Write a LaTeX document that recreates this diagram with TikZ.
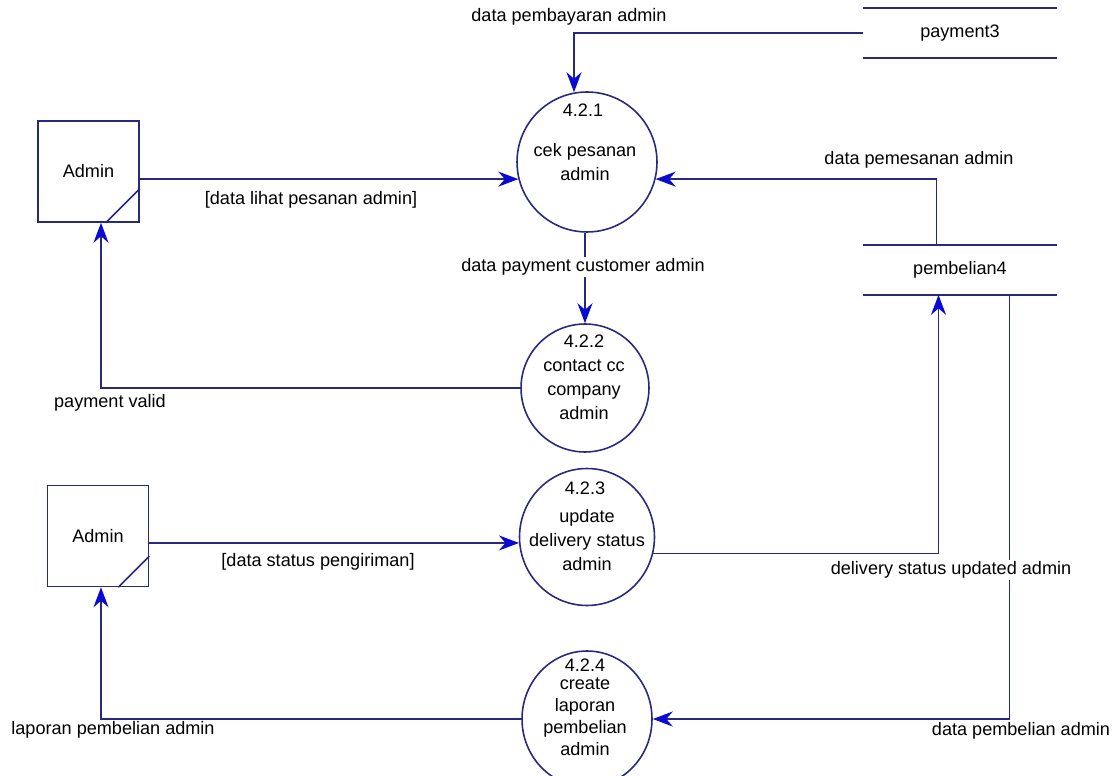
\documentclass[tikz,border=0pt]{standalone}
\usepackage{fontspec}
\setmainfont{Liberation Sans}
\usepackage{tikz}
\usetikzlibrary{arrows.meta,positioning,calc,shapes.geometric}
\usepackage{xcolor}
\definecolor{dfdline}{HTML}{28287F}
\definecolor{dfdarrow}{HTML}{0A0AD2}

\tikzset{
  entity/.style={draw=dfdline,line width=0.9pt,minimum size=2.02cm,inner sep=0pt},
  proc/.style={draw=dfdline,line width=0.9pt,ellipse,inner sep=0pt},
  store/.style={minimum width=3.86cm,minimum height=0.98cm,inner sep=0pt},
  flow/.style={draw=dfdline,line width=0.9pt,-{Stealth[length=0.4cm,width=0.3cm,color=dfdarrow]}},
  lbl/.style={inner sep=1pt,align=center},
}

\begin{document}
\begin{tikzpicture}[x=0.02cm,y=-0.02cm,font=\fontsize{10.3}{13.6}\selectfont]
  \useasboundingbox[fill=white] (0,0) rectangle (1119,776);
  % External entities
  \node[entity] (adm1) at (88.5,171.5) {Admin};
  \draw[dfdline,line width=0.9pt] ($(adm1.south east)+(0,-34)$) -- ($(adm1.south east)+(-34,0)$);
  \node[entity] (adm2) at (98,536) {Admin};
  \draw[dfdline,line width=0.9pt] ($(adm2.south east)+(0,-31)$) -- ($(adm2.south east)+(-31,0)$);
  % Data stores
  \node[store] (pay3) at (960,33) {payment3};
  \draw[dfdline,line width=0.9pt] (pay3.north west) -- (pay3.north east) (pay3.south west) -- (pay3.south east);
  \node[store] (pemb4) at (960,270) {pembelian4};
  \draw[dfdline,line width=0.9pt] (pemb4.north west) -- (pemb4.north east) (pemb4.south west) -- (pemb4.south east);
  % Processes
  \node[proc,minimum width=2.8cm,minimum height=2.8cm] (p1) at (587,162) {};
  \node (p1id) at (583,110) {4.2.1};
  \node[lbl] (p1txt) at (585,162) {cek pesanan\\admin};
  \node[proc,minimum width=2.56cm,minimum height=2.56cm] (p2) at (585,388) {};
  \node[lbl] (p2txt) at (584,377) {4.2.2\\contact cc\\company\\admin};
  \node[proc,minimum width=2.7cm,minimum height=2.74cm] (p3) at (587,537) {};
  \node (p3id) at (585,488) {4.2.3};
  \node[lbl] (p3txt) at (587,540) {update\\delivery status\\admin};
  \node[proc,minimum width=2.6cm,minimum height=2.72cm] (p4) at (587,719) {};
  \node (p4id) at (585,665) {4.2.4};
  \node[lbl,font=\fontsize{10.3}{12.6}\selectfont] (p4txt) at (585,717) {create\\laporan\\pembelian\\admin};
  % Flows
  \draw[flow] (pay3.west) -| ($(p1.north)+(-13,1)$);
  \draw[flow] (adm1.east |- p1.194) -- (p1.194);
  \draw[flow] ([xshift=-0.47cm]pemb4.north) |- (p1.346);
  \draw[flow] (p1.south -| p2.north) -- (p2.north);
  \draw[flow] (p2.west) -| ([xshift=0.25cm]adm1.south);
  \draw[flow] (adm2.east |- p3.185) -- (p3.185);
  \draw[flow] (p3.346) -| ([xshift=-0.43cm]pemb4.south);
  \draw[flow] ([xshift=0.99cm]pemb4.south) |- (p4.east);
  \draw[flow] (p4.west) -| ([xshift=0.06cm]adm2.south);
  % Flow labels
  \node[lbl] (f1) at (569,17) {data pembayaran admin};
  \node[lbl] (f2) at (311,200) {[data lihat pesanan admin]};
  \node[lbl] (f3) at (919,160) {data pemesanan admin};
  \node[lbl,fill=white] (f4) at (583,267) {data payment customer admin};
  \node[lbl] (f5) at (110,403) {payment valid};
  \node[lbl] (f6) at (318,562) {[data status pengiriman]};
  \node[lbl,fill=white] (f7) at (951,570) {delivery status updated admin};
  \node[lbl] (f8) at (1021,731) {data pembelian admin};
  \node[lbl] (f9) at (113,730) {laporan pembelian admin};
\end{tikzpicture}
\end{document}
